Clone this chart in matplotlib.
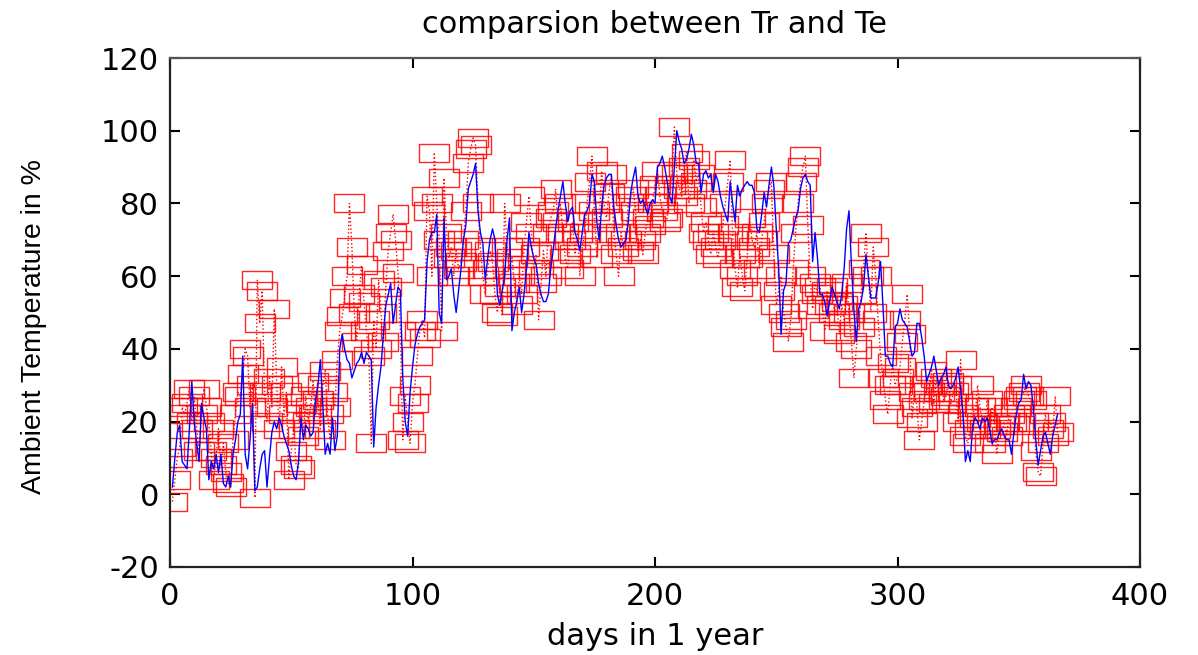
import matplotlib
matplotlib.use("Agg")
import matplotlib.pyplot as plt
import numpy as np
from matplotlib.path import Path

plt.rcParams["axes.unicode_minus"] = False

title_text = "comparsion between Tr and Te"
x_label = "days in 1 year"
y_label = "Ambient Temperature in %"
x_ticks = [0, 100, 200, 300, 400]
y_ticks = [-20, 0, 20, 40, 60, 80, 100, 120]

tr_values = [
    2, 10, 17, 19, 9, 8, 7, 18, 31, 20,
    14, 9, 25, 21, 18, 4, 9, 7, 11, 6,
    11, 3, 2, 5, 2, 11, 15, 20, 22, 38,
    11, 7, 15, 25, 1, 2, 7, 11, 12, 2,
    10, 17, 20, 18, 21, 19, 16, 14, 12, 8,
    5, 4, 9, 21, 15, 19, 18, 16, 17, 26,
    30, 37, 25, 11, 14, 11, 21, 12, 16, 40,
    44, 40, 37, 36, 32, 34, 36, 37, 39, 36,
    39, 38, 37, 13, 24, 30, 35, 44, 52, 55,
    58, 47, 52, 57, 56, 32, 20, 16, 28, 35,
    41, 44, 46, 47, 48, 64, 70, 72, 72, 77,
    50, 47, 76, 59, 60, 62, 55, 50, 56, 62,
    70, 74, 84, 86, 88, 91, 78, 72, 69, 59,
    65, 70, 73, 70, 55, 52, 56, 60, 70, 76,
    45, 50, 53, 57, 50, 55, 62, 72, 68, 65,
    63, 58, 55, 53, 53, 55, 62, 67, 73, 78,
    82, 86, 80, 75, 78, 79, 72, 70, 67, 72,
    77, 78, 80, 88, 86, 75, 70, 79, 85, 87,
    88, 88, 79, 74, 70, 68, 69, 70, 75, 83,
    87, 90, 82, 80, 81, 79, 77, 80, 81, 80,
    90, 91, 93, 90, 86, 82, 80, 90, 100, 97,
    95, 91, 92, 95, 99, 96, 91, 91, 83, 88,
    89, 87, 88, 83, 88, 86, 82, 79, 77, 75,
    86, 80, 75, 85, 82, 84, 85, 86, 85, 85,
    83, 73, 72, 77, 83, 79, 85, 90, 85, 73,
    62, 44, 56, 58, 69, 70, 73, 76, 78, 84,
    87, 88, 86, 85, 64, 72, 65, 55, 55, 53,
    49, 53, 57, 55, 53, 51, 55, 62, 73, 78,
    63, 51, 42, 51, 53, 57, 66, 60, 54, 54,
    54, 58, 64, 52, 38, 38, 36, 35, 46, 47,
    51, 48, 47, 46, 42, 38, 39, 47, 47, 43,
    38, 31, 33, 35, 38, 34, 30, 32, 33, 35,
    30, 29, 30, 32, 35, 29, 22, 9, 12, 9,
    19, 21, 20, 18, 21, 20, 21, 18, 14, 15,
    15, 17, 18, 16, 15, 15, 11, 17, 22, 25,
    26, 33, 29, 31, 30, 24, 15, 8, 12, 16,
    17, 14, 11, 16, 19, 22,
]

te_values = [
    -2, 4, 10, 13, 24, 22, 25, 29, 20, 27,
    18, 12, 22, 29, 24, 20, 12, 4, 10, 18,
    8, 14, 6, 3, 2, 15, 22, 28, 27, 33,
    40, 38, 24, 30, -1, 59, 47, 56, 28, 20,
    32, 24, 51, 30, 18, 35, 22, 28, 4, 12,
    18, 8, 7, 25, 16, 27, 20, 24, 31, 22,
    26, 18, 30, 34, 22, 15, 28, 24, 37, 45,
    49, 54, 60, 80, 68, 50, 42, 55, 63, 53,
    45, 38, 14, 48, 40, 59, 50, 42, 57, 67,
    72, 77, 70, 61, 45, 15, 27, 20, 14, 25,
    30, 38, 45, 48, 43, 82, 78, 60, 94, 80,
    70, 45, 87, 72, 65, 68, 60, 67, 62, 64,
    70, 78, 91, 95, 98, 96, 80, 68, 60, 55,
    62, 67, 64, 55, 50, 57, 49, 80, 68, 62,
    65, 58, 52, 60, 55, 68, 75, 82, 72, 62,
    66, 48, 58, 67, 60, 72, 76, 78, 84, 75,
    80, 72, 65, 62, 70, 75, 66, 72, 60, 68,
    72, 80, 86, 93, 78, 65, 75, 89, 80, 76,
    83, 88, 72, 66, 60, 72, 68, 70, 80, 82,
    84, 78, 67, 70, 66, 72, 76, 74, 80, 85,
    89, 82, 78, 75, 76, 85, 88, 101, 88, 84,
    82, 90, 94, 80, 84, 92, 86, 88, 79, 72,
    75, 70, 66, 72, 68, 65, 70, 74, 80, 86,
    92, 72, 62, 57, 66, 60, 56, 65, 76, 70,
    68, 72, 62, 70, 75, 80, 84, 86, 66, 52,
    56, 60, 50, 46, 42, 48, 62, 72, 80, 86,
    90, 93, 74, 60, 51, 58, 55, 57, 52, 45,
    56, 52, 57, 50, 53, 44, 52, 48, 58, 50,
    42, 32, 40, 46, 55, 62, 72, 60, 50, 68,
    60, 48, 38, 32, 26, 22, 30, 36, 30, 32,
    35, 42, 48, 55, 44, 21, 28, 24, 15, 20,
    26, 30, 28, 34, 25, 32, 28, 30, 26, 27,
    31, 25, 28, 30, 20, 37, 22, 16, 14, 18,
    24, 21, 30, 24, 20, 18, 26, 14, 24, 18,
    11, 19, 17, 20, 16, 22, 20, 19, 24, 26,
    27, 28, 30, 27, 26, 20, 12, 6, 5, 14,
    22, 18, 20, 16, 27, 17,
]

days = np.arange(1, len(tr_values) + 1)

fig = plt.figure(figsize=(11.98, 6.55), dpi=100)
ax = fig.add_axes([170 / 1198, 88 / 655, 970 / 1198, 509 / 655])

# wide rectangle marker (MATLAB square stretched horizontally)
rect = Path([(-0.5, -0.32), (0.5, -0.32), (0.5, 0.32), (-0.5, 0.32), (-0.5, -0.32)],
            [Path.MOVETO, Path.LINETO, Path.LINETO, Path.LINETO, Path.CLOSEPOLY])

ax.plot(days, te_values, color="red", linestyle=":", linewidth=1.0,
        marker=rect, markersize=21, markerfacecolor="none",
        markeredgecolor=(1, 0, 0, 0.85), markeredgewidth=1.0)
ax.plot(days, tr_values, color="blue", linewidth=1.0)

ax.set_xlim(0, 400)
ax.set_ylim(-20, 120)
ax.set_xticks(x_ticks)
ax.set_yticks(y_ticks)
ax.tick_params(direction="in", length=7, width=1.5, top=True, right=True,
               labelsize=22, colors="black")
ax.tick_params(axis="x", pad=11)
ax.tick_params(axis="y", pad=8)
for sp in ax.spines.values():
    sp.set_linewidth(1.6)
    sp.set_color("#222222")
ax.spines["top"].set_color("#555555")

ax.set_title(title_text, fontsize=22, pad=18, family="DejaVu Sans")
ax.set_xlabel(x_label, fontsize=22, labelpad=8, family="DejaVu Sans")
ax.set_ylabel(y_label, fontsize=20.5, family=["Liberation Sans", "DejaVu Sans"])
ax.yaxis.set_label_coords(-0.127, 0.473)

fig.savefig("out.png", dpi=100)
